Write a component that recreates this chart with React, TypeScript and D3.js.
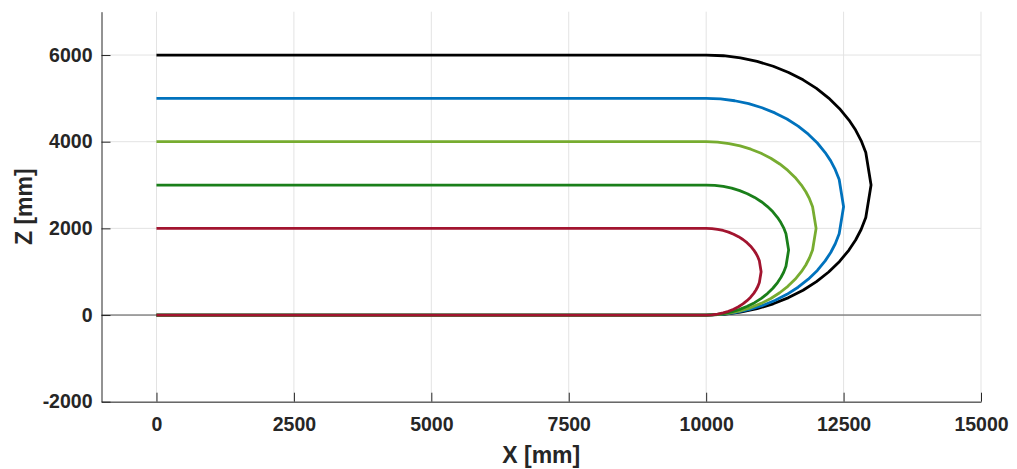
import React, { useEffect, useRef } from 'react';
import * as d3 from 'd3';

// path vertices, [x, z] in mm
const RED_PTS = [
  [0, 2000], [10000, 2000], [10105, 1995], [10208, 1978], [10309, 1951], [10407, 1914], [10500, 1866],
  [10588, 1809], [10669, 1743], [10743, 1669], [10809, 1588], [10866, 1500], [10906, 1423], [10940, 1342],
  [10968, 1250], [11000, 1000], [10968, 750], [10940, 658], [10906, 577], [10866, 500], [10809, 412],
  [10743, 331], [10669, 257], [10588, 191], [10500, 134], [10407, 86], [10309, 49], [10208, 22],
  [10105, 5], [10000, 0], [0, 0],
];
const DARKGREEN_PTS = [
  [0, 3000], [10000, 3000], [10157, 2992], [10312, 2967], [10464, 2927], [10610, 2870], [10750, 2799],
  [10882, 2714], [11004, 2615], [11115, 2504], [11214, 2382], [11299, 2250], [11359, 2134], [11410, 2013],
  [11452, 1876], [11500, 1500], [11452, 1124], [11410, 987], [11359, 866], [11299, 750], [11214, 618],
  [11115, 496], [11004, 385], [10882, 286], [10750, 201], [10610, 130], [10464, 73], [10312, 33],
  [10157, 8], [10000, 0], [0, 0],
];
const LIGHTGREEN_PTS = [
  [0, 4000], [10000, 4000], [10209, 3989], [10416, 3956], [10618, 3902], [10813, 3827], [11000, 3732],
  [11176, 3618], [11338, 3486], [11486, 3338], [11618, 3176], [11732, 3000], [11813, 2845], [11879, 2684],
  [11936, 2501], [12000, 2000], [11936, 1499], [11879, 1316], [11813, 1155], [11732, 1000], [11618, 824],
  [11486, 662], [11338, 514], [11176, 382], [11000, 268], [10813, 173], [10618, 98], [10416, 44],
  [10209, 11], [10000, 0], [0, 0],
];
const BLUE_PTS = [
  [0, 5000], [10000, 5000], [10261, 4986], [10520, 4945], [10773, 4878], [11017, 4784], [11250, 4665],
  [11470, 4523], [11673, 4358], [11858, 4173], [12023, 3970], [12165, 3750], [12266, 3557], [12349, 3355],
  [12420, 3126], [12500, 2500], [12420, 1874], [12349, 1645], [12266, 1443], [12165, 1250], [12023, 1030],
  [11858, 827], [11673, 642], [11470, 477], [11250, 335], [11017, 216], [10773, 122], [10520, 55],
  [10261, 14], [10000, 0], [0, 0],
];
const BLACK_PTS = [
  [0, 6000], [10000, 6000], [10314, 5984], [10624, 5934], [10927, 5853], [11220, 5741], [11500, 5598],
  [11763, 5427], [12007, 5229], [12229, 5007], [12427, 4763], [12598, 4500], [12719, 4268], [12819, 4026],
  [12904, 3751], [13000, 3000], [12904, 2249], [12819, 1974], [12719, 1732], [12598, 1500], [12427, 1237],
  [12229, 993], [12007, 771], [11763, 573], [11500, 402], [11220, 259], [10927, 147], [10624, 66],
  [10314, 16], [10000, 0], [0, 0],
];

const SERIES = [
  { pts: BLACK_PTS, color: '#000000' },
  { pts: BLUE_PTS, color: '#0072BD' },
  { pts: LIGHTGREEN_PTS, color: '#77AC30' },
  { pts: DARKGREEN_PTS, color: '#1A7F1A' },
  { pts: RED_PTS, color: '#A2142F' },
];

const X_TICKS = [0, 2500, 5000, 7500, 10000, 12500, 15000];
const Y_TICKS = [-2000, 0, 2000, 4000, 6000];
const X_DOMAIN = [-1000, 15000];
const Y_DOMAIN = [-2000, 7000];

const App = () => {
  const svgRef = useRef<SVGSVGElement>(null);

  useEffect(() => {
    document.body.style.margin = '0';
    const W = 1017, H = 469;
    const margin = { top: 11.7, right: 36, bottom: 67.3, left: 101.5 };
    const width = W - margin.left - margin.right;
    const height = H - margin.top - margin.bottom;

    const svg = d3.select(svgRef.current);
    svg.selectAll('*').remove();
    svg.attr('width', W).attr('height', H);

    const g = svg.append('g').attr('transform', `translate(${margin.left},${margin.top})`);

    const x = d3.scaleLinear().domain(X_DOMAIN).range([0, width]);
    const y = d3.scaleLinear().domain(Y_DOMAIN).range([height, 0]);

    const font = 'Liberation Sans, Arial, sans-serif';

    // grid
    g.selectAll('.vgrid').data(X_TICKS).enter().append('line')
      .attr('x1', d => x(d)).attr('x2', d => x(d))
      .attr('y1', 0).attr('y2', height)
      .attr('stroke', '#e3e3e3').attr('stroke-width', 1);
    g.selectAll('.hgrid').data(Y_TICKS).enter().append('line')
      .attr('x1', 0).attr('x2', width)
      .attr('y1', d => y(d)).attr('y2', d => y(d))
      .attr('stroke', '#e3e3e3').attr('stroke-width', 1);

    // zero line
    g.append('line')
      .attr('x1', 0).attr('x2', width)
      .attr('y1', y(0)).attr('y2', y(0))
      .attr('stroke', '#555').attr('stroke-width', 1);

    const line = d3.line<number[]>().x(d => x(d[0])).y(d => y(d[1]));
    SERIES.forEach(s => {
      g.append('path')
        .attr('d', line(s.pts))
        .attr('fill', 'none')
        .attr('stroke', s.color)
        .attr('stroke-width', 2.8)
        .attr('stroke-linejoin', 'round');
    });

    // axes
    const xAxis = g.append('g')
      .attr('transform', `translate(0,${height})`)
      .call(d3.axisBottom(x).tickValues(X_TICKS).tickSizeInner(-9).tickSizeOuter(0).tickPadding(15).tickFormat(d => String(d)));
    const yAxis = g.append('g')
      .call(d3.axisLeft(y).tickValues(Y_TICKS).tickSizeInner(-9).tickSizeOuter(0).tickPadding(9).tickFormat(d => String(d)));

    [xAxis, yAxis].forEach(a => {
      a.select('.domain').attr('stroke', '#262626').attr('stroke-width', 1);
      a.selectAll('.tick line').attr('stroke', '#262626');
      a.selectAll('.tick text')
        .attr('fill', '#262626')
        .style('font-family', font)
        .style('font-size', '19.5px')
        .style('font-weight', 'bold');
    });

    g.append('text')
      .attr('x', width / 2)
      .attr('y', height + 61.5)
      .attr('text-anchor', 'middle')
      .style('font-family', font)
      .style('font-size', '23px')
      .style('font-weight', 'bold')
      .attr('fill', '#262626')
      .text('X [mm]');

    g.append('text')
      .attr('transform', `translate(${-70},${height / 2}) rotate(-90)`)
      .attr('text-anchor', 'middle')
      .style('font-family', font)
      .style('font-size', '23px')
      .style('font-weight', 'bold')
      .attr('fill', '#262626')
      .text('Z [mm]');
  }, []);

  return (
    <div style={{ width: 1017, height: 469, background: '#fff' }}>
      <svg ref={svgRef} style={{ display: 'block' }}></svg>
    </div>
  );
};

export default App;
